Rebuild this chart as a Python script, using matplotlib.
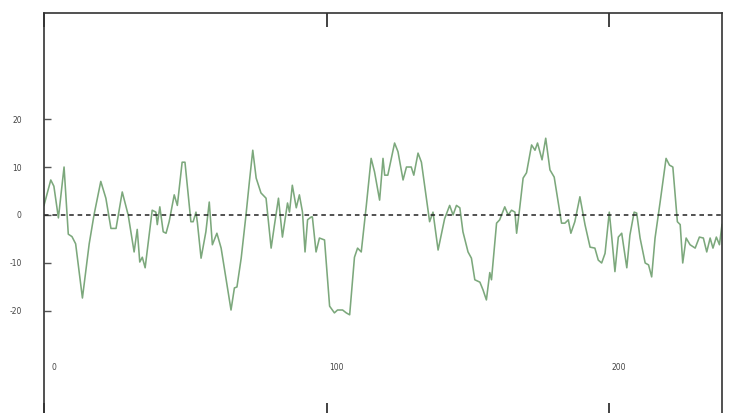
import numpy as np
import matplotlib
matplotlib.use("Agg")
import matplotlib.pyplot as plt
from matplotlib.transforms import ScaledTranslation

# werte
x_werte = [0, 2.4, 3.5, 5.1, 7.1, 8.6, 9.9, 11.2, 13.6, 16.0, 17.7, 20.1, 21.9, 23.7, 25.5,
           27.7, 29.8, 31.9, 33.0, 33.9, 34.8, 35.8, 38.3, 39.6, 40.1, 41.0, 42.2, 43.2, 44.3,
           46.1, 47.2, 48.9, 49.9, 51.4, 52.0, 52.8, 53.8, 54.3, 55.6, 57.3, 58.5, 59.6, 61.2,
           62.7, 64.9, 66.2, 67.4, 68.3, 69.8, 71.5, 72.7, 73.9, 75.1, 76.8, 78.6, 80.4, 81.6,
           83.0, 84.4, 86.2, 86.9, 87.9, 89.3, 90.4, 91.5, 92.4, 93.3, 94.6, 95.0, 96.3, 97.5,
           99.3, 101.1, 102.8, 103.9, 105.7, 107.0, 108.2, 109.9, 111.0, 112.3, 114.1, 115.8,
           117.0, 118.8, 120.0, 120.6, 121.7, 124.1, 125.3, 127.1, 128.3, 130.0, 130.9, 132.4,
           133.6, 136.5, 137.7, 139.5, 141.8, 143.6, 144.8, 146.0, 147.2, 148.3, 150.1, 151.3,
           152.5, 154.3, 155.4, 156.6, 157.8, 158.4, 160.2, 161.3, 163.1, 164.3, 165.5, 166.7,
           167.3, 168.4, 169.6, 170.8, 172.6, 173.8, 174.7, 176.3, 177.6, 179.1, 180.6, 183.2,
           184.4, 185.6, 186.5, 187.9, 189.7, 191.5, 193.3, 195.0, 196.2, 197.4, 198.6, 200.1,
           201.0, 202.1, 203.3, 204.5, 206.3, 207.4, 208.9, 209.8, 211.0, 212.8, 214.0, 215.1,
           216.3, 218.1, 220.2, 221.4, 222.6, 223.4, 224.2, 225.2, 226.1, 227.3, 228.7, 230.5,
           232.0, 233.4, 234.6, 235.8, 236.8, 238.0, 239.1, 240.0]
y_werte = [2.0, 7.3, 6.0, -0.6, 10.0, -4.0, -4.5, -6.0, -17.3, -6.0, 0.0, 7.0, 3.5, -2.8, -2.8,
           4.8, 0.0, -7.7, -3.0, -9.8, -8.8, -11.0, 1.0, 0.6, -2.0, 1.7, -3.5, -3.8, -1.4,
           4.2, 2.0, 11.0, 11.0, 2.0, -1.4, -1.4, 0.6, -1.6, -9.0, -3.5, 2.7, -6.2, -3.8,
           -6.9, -15.0, -19.8, -15.2, -15.0, -9.0, 0.0, 6.9, 13.5, 7.7, 4.6, 3.5, -6.9, -2.0,
           3.5, -4.6, 2.5, 0.6, 6.2, 1.5, 4.2, 0.6, -7.7, -1.0, -0.4, -0.4, -7.7, -4.8,
           -5.2, -19.0, -20.4, -19.8, -19.8, -20.4, -20.8, -8.8, -6.9, -7.7, 2.0, 11.8,
           9.0, 3.1, 11.8, 8.3, 8.3, 15.0, 13.2, 7.3, 10.0, 10.0, 8.3, 12.9,
           11.0, -1.4, 0.6, -7.3, -0.8, 2.0, 0.0, 2.0, 1.5, -3.5, -7.7, -9.0,
           -13.5, -14.0, -15.6, -17.7, -12.0, -13.5, -1.7, -1.0, 1.7, 0.0, 1.0, 0.6,
           -3.8, 1.5, 7.7, 8.8, 14.6, 13.5, 15.0, 11.5, 16.0, 9.4, 7.9, -1.7,
           -1.7, -1.0, -3.8, -1.4, 3.8, -2.0, -6.7, -6.9, -9.4, -10.0, -8.0, 0.6,
           -4.8, -11.8, -4.6, -3.8, -11.0, -4.2, 0.6, 0.4, -4.8, -10.0, -10.4, -12.9,
           -4.8, 2.7, 11.8, 10.4, 10.0, 4.2, -1.4, -2.0, -10.0, -4.8, -6.2, -6.9,
           -4.6, -4.8, -7.7, -4.8, -6.9, -4.6, -6.2, -2.0]

x_ticks = [0, 100, 200]
y_ticks = [-20, -10, 0, 10, 20]

fig = plt.figure(figsize=(7.49, 4.13), dpi=100)
# unterer rand liegt knapp ausserhalb des bildes
ax = fig.add_axes([44 / 749, -4 / 413, (722 - 44) / 749, (417 - 13) / 413])

ax.plot(x_werte, y_werte, color="#7ca87c", linewidth=1.15)
ax.axhline(0, color="#222222", linestyle=(0, (3, 2.5)), linewidth=1.1)

ax.set_xlim(0, 240)
ax.set_ylim(-42.1, 42.1)

ax.set_xticks(x_ticks)
ax.set_xticklabels([str(t) for t in x_ticks])
ax.set_yticks(y_ticks)
ax.set_yticklabels([str(t) for t in y_ticks])

ax.tick_params(axis="x", direction="in", top=True, bottom=True, length=10, width=1.3,
               color="#333333", labelsize=5.5, labelcolor="#444444", pad=-39)
ax.tick_params(axis="y", direction="in", left=True, right=False, length=5, width=1.0,
               color="#555555", labelsize=5.5, labelcolor="#444444", pad=16)

# x beschriftung leicht nach rechts versetzt
for lab in ax.get_xticklabels():
    lab.set_transform(lab.get_transform() + ScaledTranslation(10 / 100, 0, fig.dpi_scale_trans))

for s in ax.spines.values():
    s.set_color("#333333")
    s.set_linewidth(1.2)

fig.savefig("out.png", dpi=100)
